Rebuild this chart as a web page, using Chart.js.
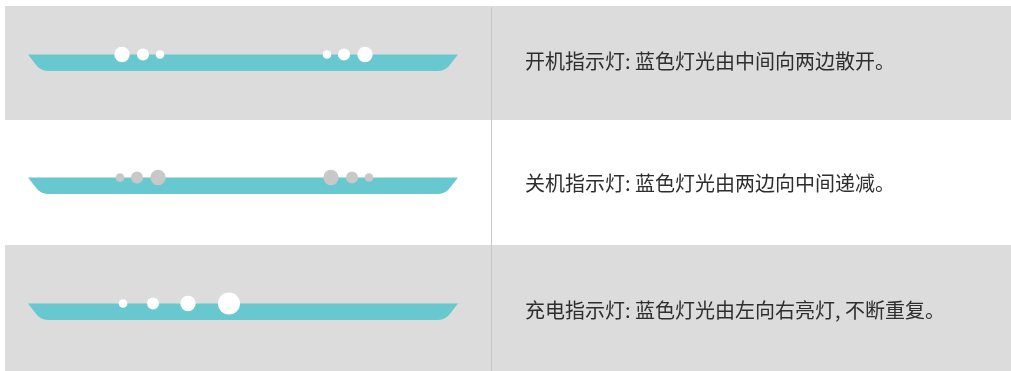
<!DOCTYPE html>
<html>
<head>
<meta charset="utf-8">
<script src="https://cdn.jsdelivr.net/npm/chart.js@4/dist/chart.umd.min.js"></script>
<style>
  html, body { margin: 0; padding: 0; background: #fff; }
  #wrap { width: 1011px; height: 371px; }
</style>
</head>
<body>
<div id="wrap"><canvas id="chartCanvas" width="1011" height="371"></canvas></div>
<script>
// rows of the table
const rowLabels = [
    '开机指示灯: 蓝色灯光由中间向两边散开。',
    '关机指示灯: 蓝色灯光由两边向中间递减。',
    '充电指示灯: 蓝色灯光由左向右亮灯, 不断重复。'
];

// dots on each light bar (x along the bar, r = dot radius)
const powerOnX = [122, 143, 160, 327, 344, 365];
const powerOnR = [7.7, 6, 4.3, 4.3, 6, 7.7];
const powerOffX = [120, 137, 158, 331, 352, 369];
const powerOffR = [4.3, 6, 7.7, 7.7, 6, 4.3];
const chargeX = [123, 153, 188, 229];
const chargeR = [4.3, 6, 7.7, 11];

// layout of rows (scale units = px)
const rowBands = [[6, 120, '#dcdcdc'], [120, 245, '#ffffff'], [245, 371, '#dcdcdc']];
const barTops = [54.5, 177.5, 303.5];
const barHeight = 16.5;

function toPoints(xs, rs, y) {
    return xs.map((x, i) => ({ x: x, y: y, r: rs[i] }));
}

// backgrounds, light bars and text
const tablePlugin = {
    id: 'table',
    beforeDatasetsDraw(chart) {
        const ctx = chart.ctx;
        const xs = chart.scales.x;
        const ys = chart.scales.y;
        ctx.save();
        rowBands.forEach(b => {
            ctx.fillStyle = b[2];
            const x0 = xs.getPixelForValue(5);
            const x1 = xs.getPixelForValue(1011);
            const y0 = ys.getPixelForValue(b[0]);
            const y1 = ys.getPixelForValue(b[1]);
            ctx.fillRect(x0, y0, x1 - x0, y1 - y0);
        });
        // divider
        ctx.fillStyle = '#c8c8c8';
        ctx.fillRect(xs.getPixelForValue(491), ys.getPixelForValue(7), 1, ys.getPixelForValue(371) - ys.getPixelForValue(7));

        // light bars
        barTops.forEach(t => {
            const top = ys.getPixelForValue(t);
            const bot = ys.getPixelForValue(t + barHeight);
            const l = xs.getPixelForValue(28);
            const r = xs.getPixelForValue(458);
            ctx.fillStyle = '#68c8d0';
            ctx.beginPath();
            ctx.moveTo(l, top);
            ctx.lineTo(r, top);
            ctx.lineTo(r - 7, top + 9);
            ctx.quadraticCurveTo(r - 12, bot, r - 20, bot);
            ctx.lineTo(l + 20, bot);
            ctx.quadraticCurveTo(l + 12, bot, l + 7, top + 9);
            ctx.closePath();
            ctx.fill();
        });

        // row text
        ctx.fillStyle = '#2e2e2e';
        ctx.font = '20px "Noto Sans CJK SC", "Noto Sans", sans-serif';
        ctx.textBaseline = 'middle';
        const textY = [61, 183.5, 310];
        rowLabels.forEach((txt, i) => {
            ctx.fillText(txt, xs.getPixelForValue(525), ys.getPixelForValue(textY[i]));
        });
        ctx.restore();
    }
};

const ctx = document.getElementById('chartCanvas').getContext('2d');

window.myChart = new Chart(ctx, {
    type: 'bubble',
    data: {
        datasets: [
            { label: '开机', data: toPoints(powerOnX, powerOnR, barTops[0]), backgroundColor: '#ffffff', borderWidth: 0, clip: false },
            { label: '关机', data: toPoints(powerOffX, powerOffR, barTops[1]), backgroundColor: '#c8c8c8', borderWidth: 0, clip: false },
            { label: '充电', data: toPoints(chargeX, chargeR, barTops[2]), backgroundColor: '#ffffff', borderWidth: 0, clip: false }
        ]
    },
    options: {
        responsive: false,
        animation: false,
        events: [],
        layout: { padding: 0, autoPadding: false },
        plugins: { legend: { display: false }, tooltip: { enabled: false } },
        scales: {
            x: { type: 'linear', min: 0, max: 1011, display: false },
            y: { type: 'linear', min: 0, max: 371, reverse: true, display: false }
        }
    },
    plugins: [tablePlugin]
});
</script>
</body>
</html>
